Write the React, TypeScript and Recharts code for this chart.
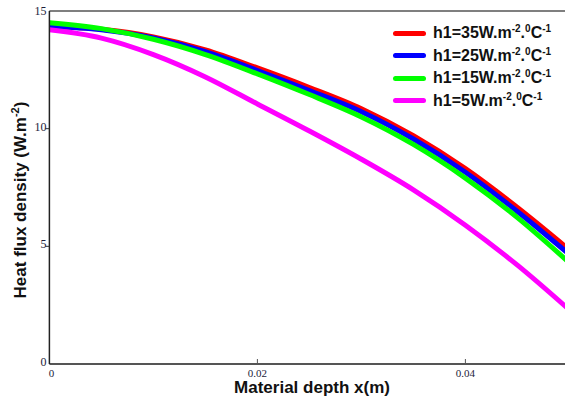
import React from 'react';
import { LineChart, Line, XAxis, YAxis, Legend, ReferenceLine } from 'recharts';

// depth in metres
const depth = [0, 0.005, 0.01, 0.015, 0.02, 0.025, 0.03, 0.035, 0.04, 0.045, 0.05];
// heat flux density (W.m-2) for each h1
const flux35 = [14.35, 14.22, 13.9, 13.35, 12.58, 11.75, 10.85, 9.7, 8.3, 6.65, 4.85];
const flux25 = [14.35, 14.2, 13.85, 13.27, 12.47, 11.62, 10.72, 9.56, 8.15, 6.48, 4.65];
const flux15 = [14.5, 14.25, 13.8, 13.15, 12.33, 11.45, 10.5, 9.33, 7.9, 6.22, 4.3];
const flux5 = [14.2, 13.85, 13.15, 12.2, 11.05, 9.9, 8.7, 7.4, 5.9, 4.2, 2.3];

const seriesNames = ['35', '25', '15', '5'];
const seriesColors = ['#ff0000', '#0000ff', '#00ff00', '#ff00ff'];

const xTicks = [0, 0.02, 0.04];
const xTickLabels = ['0', '0.02', '0.04'];
const yTicks = [0, 5, 10, 15];

const data = depth.map((x, i) => ({
  x,
  h35: flux35[i],
  h25: flux25[i],
  h15: flux15[i],
  h5: flux5[i],
}));
const keys = ['h35', 'h25', 'h15', 'h5'];

const tickFont = '"Liberation Serif", "Times New Roman", serif';
const boldFont = '"Liberation Sans", Arial, sans-serif';
const tickColor = '#1c1c3a';

const XTick = (props: any) => {
  const { x, y, payload } = props;
  const idx = xTicks.indexOf(payload.value);
  return (
    <g>
      {payload.value !== 0 && <line x1={x} x2={x} y1={y} y2={y - 5} stroke="#555" strokeWidth={1} />}
      <text x={payload.value === 0 ? x + 2 : x} y={y + 13} textAnchor="middle" fontFamily={tickFont} fontSize={11} fill={tickColor}>
        {idx >= 0 ? xTickLabels[idx] : payload.value}
      </text>
    </g>
  );
};

const YTick = (props: any) => {
  const { x, y, payload } = props;
  return (
    <g>
      {payload.value !== 0 && payload.value !== 15 && <line x1={x - 4} x2={x} y1={y} y2={y} stroke="#333" strokeWidth={1} />}
      <text x={x - 3} y={payload.value === 15 ? y + 4 : y + 2} textAnchor="end" fontFamily={tickFont} fontSize={12} fill={tickColor}>
        {payload.value}
      </text>
    </g>
  );
};

const supStyle: React.CSSProperties = { fontSize: 10, verticalAlign: 6, lineHeight: 0 };

const LegendBox = ({ payload }: any) => {
  const items = [...(payload || [])].sort(
    (a: any, b: any) => seriesNames.indexOf(a.value) - seriesNames.indexOf(b.value)
  );
  return (
    <div style={{ display: 'flex', flexDirection: 'column' }}>
      {items.map((p: any, i: number) => (
        <div key={i} style={{ height: 22.5, flex: 'none', display: 'flex', alignItems: 'center' }}>
          <span style={{ width: 33, height: 5, background: p.color, borderRadius: 2.5, marginRight: 7 }} />
          <span style={{ font: `bold 16px ${boldFont}`, color: '#111', whiteSpace: 'nowrap', lineHeight: '16px' }}>
            h1={p.value}W.m<span style={supStyle}>-2</span>.<span style={supStyle}>0</span>C<span style={supStyle}>-1</span>
          </span>
        </div>
      ))}
    </div>
  );
};

export default function App() {
  return (
    <div style={{ position: 'absolute', left: 0, top: 0, width: 565, height: 405, overflow: 'hidden', background: '#fff' }}>
      <LineChart width={580} height={405} data={data} margin={{ top: 11, right: 10.6, bottom: 11, left: 48.4 }}>
        <XAxis
          dataKey="x"
          type="number"
          domain={[0, 0.05]}
          ticks={xTicks}
          tick={<XTick />}
          tickSize={0}
          tickMargin={0}
          tickLine={false}
          height={30}
          axisLine={{ stroke: '#555', strokeWidth: 2 }}
        />
        <YAxis
          type="number"
          domain={[0, 15]}
          ticks={yTicks}
          tick={<YTick />}
          tickSize={0}
          tickMargin={0}
          tickLine={false}
          width={1}
          allowDataOverflow
          axisLine={{ stroke: '#222', strokeWidth: 1.5 }}
        />
        <ReferenceLine y={15} stroke="#555" strokeWidth={1.5} />
        <Legend
          layout="vertical"
          align="center"
          verticalAlign="middle"
          content={<LegendBox />}
          wrapperStyle={{ left: 393, top: 22, width: 'auto', height: 'auto' }}
        />
        {keys.map((k, i) => (
          <Line
            key={k}
            dataKey={k}
            name={seriesNames[i]}
            stroke={seriesColors[i]}
            strokeWidth={5}
            type="monotone"
            dot={false}
            isAnimationActive={false}
          />
        ))}
      </LineChart>
      <div style={{ position: 'absolute', left: 312, top: 378, lineHeight: '17px', transform: 'translateX(-50%)', font: `bold 17px ${boldFont}`, color: '#111', whiteSpace: 'nowrap' }}>
        Material depth x(m)
      </div>
      <div style={{ position: 'absolute', left: 21, top: 200, transform: 'translate(-50%, -50%) rotate(-90deg)', font: `bold 17px ${boldFont}`, color: '#111', whiteSpace: 'nowrap' }}>
        Heat flux density (W.m<span style={{ fontSize: 11, verticalAlign: 7, lineHeight: 0 }}>-2</span>)
      </div>
    </div>
  );
}
